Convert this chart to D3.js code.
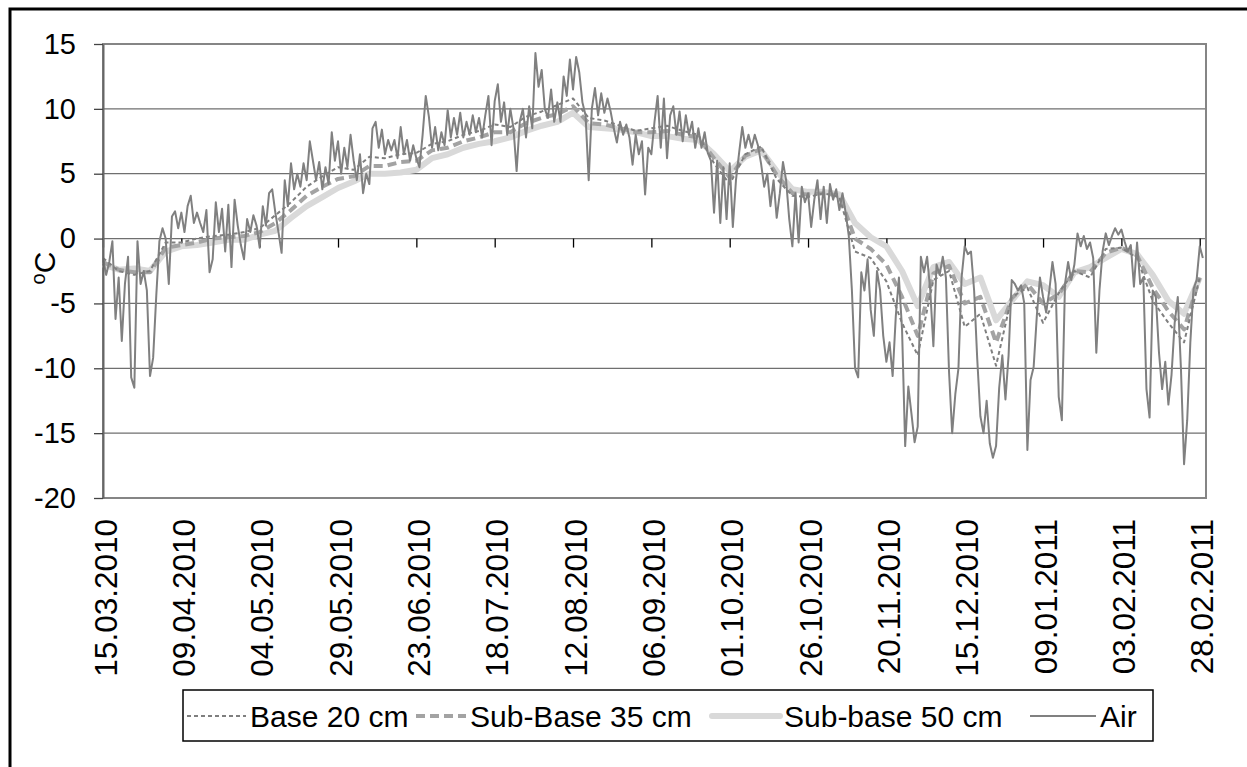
<!DOCTYPE html>
<html>
<head>
<meta charset="utf-8">
<script src="https://cdn.jsdelivr.net/npm/d3@7"></script>
<style>
  body { margin: 0; background: #fff; }
  svg { display: block; }
</style>
</head>
<body>
<div id="chart"></div>
<script>
// first reading date, soil sensors logged every soilStep days
const startDate = "15.03.2010";
const axisEnd = "02.03.2011";
const soilStep = 5;

// daily air temperature, 15.03.2010 .. 01.03.2011
const airTemp = [
  -1.5, -2.8, -1.8, -0.2, -6.2, -3.0, -7.9, -3.5, -1.4, -10.7,
  -11.5, -0.2, -3.5, -2.5, -4.0, -10.6, -9.2, -4.4, -0.2, 0.8,
  0.0, -3.5, 1.7, 2.1, 0.8, 2.0, 0.5, 2.5, 3.3, 1.2,
  2.0, 1.2, 0.5, 2.2, -2.6, -1.6, 2.8, 0.5, 2.3, -1.0,
  2.6, -2.2, 3.0, 1.0, -0.5, -1.6, 1.5, 0.5, 1.8, 1.0,
  -0.7, 2.5, 1.0, 3.5, 3.8, 2.0, 0.5, -1.1, 4.5, 2.5,
  5.8, 3.8, 5.0, 4.0, 5.8, 4.5, 7.5, 6.0, 4.5, 5.9,
  3.8, 5.5, 4.2, 8.2, 6.0, 7.5, 5.0, 7.0, 5.5, 8.0,
  6.0, 4.5, 6.5, 3.5, 5.0, 4.2, 8.5, 9.0, 7.0, 8.4,
  6.5, 7.6, 6.8, 7.6, 6.2, 8.6, 6.5, 7.6, 6.0, 7.2,
  6.2, 5.5, 8.0, 11.0, 9.4, 7.0, 8.6, 6.8, 8.2, 7.2,
  9.9, 7.8, 9.3, 8.0, 9.7, 7.8, 9.0, 8.0, 9.5, 8.2,
  9.3, 7.8, 9.5, 11.0, 7.2, 10.6, 11.9, 9.0, 10.5, 8.0,
  10.0, 8.5, 5.2, 9.0, 10.0, 7.8, 10.2, 8.5, 14.3, 11.7,
  13.0, 10.0, 9.3, 11.5, 9.0, 10.5, 9.0, 12.5, 11.0, 13.8,
  11.5, 14.0, 12.8, 10.5, 9.5, 4.5, 10.0, 11.6, 9.5, 11.2,
  9.7, 10.8, 9.8, 8.5, 7.4, 9.0, 8.0, 8.8, 7.8, 5.7,
  8.0, 6.5, 7.5, 3.4, 7.0, 6.5, 9.0, 11.0, 7.0, 10.8,
  6.2, 9.5, 10.2, 8.0, 9.8, 7.5, 9.5, 8.0, 9.0, 7.0,
  8.5, 7.0, 8.2, 6.6, 6.0, 2.0, 6.0, 1.2, 5.5, 1.5,
  5.8, 0.9, 4.5, 6.6, 8.6, 7.0, 8.0, 7.0, 8.0, 7.2,
  5.8, 4.0, 5.0, 2.5, 4.5, 1.6, 3.5, 5.9, 4.5, 1.5,
  -0.6, 3.5, -0.3, 4.0, 2.8, 3.5, 0.9, 3.0, 4.5, 1.5,
  4.0, 1.2, 4.2, 3.0, 3.8, 2.2, 3.5, 2.0, 0.2, -4.0,
  -10.0, -10.7, -2.6, -4.0, -1.6, -5.5, -7.5, -2.5, -4.0, -7.5,
  -9.5, -8.0, -10.6, -6.0, -3.0, -7.0, -16.0, -11.4, -13.5, -15.7,
  -14.5, -1.4, -2.6, -1.4, -4.0, -8.3, -2.0, -2.8, -1.4, -3.0,
  -10.3, -15.0, -12.0, -10.0, -3.0, -0.6, -1.2, -1.0, -4.0, -9.3,
  -13.7, -15.0, -12.5, -15.8, -16.9, -16.0, -11.5, -9.0, -12.4, -9.0,
  -3.2, -3.5, -4.0, -3.6, -5.0, -16.3, -10.9, -9.9, -6.0, -3.0,
  -4.5, -5.7, -4.0, -1.8, -3.5, -12.2, -14.0, -3.5, -1.8, -3.2,
  -2.0, 0.4, -0.6, 0.2, -0.8, -0.3, -1.5, -8.8, -4.0, -1.0,
  0.4, -0.5, 0.2, 0.8, 0.3, 0.7, -0.2, -1.0, -0.5, -3.7,
  -0.3, -3.5, -3.0, -11.6, -13.8, -4.0, -4.5, -8.8, -11.6, -9.5,
  -12.8, -10.5, -6.5, -4.5, -10.0, -17.4, -14.0, -8.0, -3.9, -3.2,
  -0.6, -1.5
];

// soil temperatures, one value every 5 days
const base20 = [
  -1.5, -2.5, -2.8, -2.5, -0.3, -0.3, 0.0, 0.2, 0.3, 0.5,
  0.8, 1.8, 2.8, 4.0, 4.8, 5.5, 5.3, 6.3, 6.2, 6.5,
  6.6, 7.3, 7.5, 8.0, 8.3, 8.8, 8.6, 9.4, 9.8, 10.3,
  10.8, 9.3, 9.1, 8.7, 8.3, 8.5, 8.7, 8.3, 8.0, 5.8,
  4.2, 6.5, 7.1, 4.6, 3.3, 3.2, 3.5, 3.2, -1.0, -1.5,
  -3.3, -6.5, -9.0, -3.2, -2.5, -6.8, -5.8, -9.8, -4.5, -3.8,
  -6.5, -4.2, -2.5, -3.0, -0.8, -0.7, -1.5, -4.8, -6.5, -8.0,
  -3.0
];
const subBase35 = [
  -1.8, -2.4, -2.6, -2.6, -0.7, -0.5, -0.3, 0.0, 0.1, 0.2,
  0.5, 1.2, 2.2, 3.3, 4.0, 4.6, 4.8, 5.6, 5.6, 5.9,
  6.0, 6.8, 7.0, 7.5, 7.8, 8.2, 8.2, 8.9, 9.3, 9.6,
  10.2, 8.9, 8.8, 8.5, 8.2, 8.2, 8.3, 8.0, 7.8, 6.2,
  4.7, 6.4, 6.9, 4.9, 3.5, 3.4, 3.5, 3.3, 0.0, -0.8,
  -2.0, -4.5, -7.5, -2.7, -2.1, -5.0, -4.5, -8.0, -4.6, -3.5,
  -5.0, -4.3, -2.5, -2.6, -1.1, -0.7, -1.3, -3.8, -5.6, -7.0,
  -3.0
];
const subBase50 = [
  -2.0, -2.4, -2.3, -2.5, -1.0, -0.6, -0.5, -0.3, -0.1, -0.1,
  0.3, 0.6, 1.6, 2.5, 3.2, 3.9, 4.4, 5.0, 5.0, 5.1,
  5.3, 6.2, 6.5, 7.0, 7.3, 7.5, 7.8, 8.3, 8.7, 9.0,
  9.7, 8.6, 8.5, 8.4, 8.2, 7.9, 7.9, 7.7, 7.6, 6.5,
  5.2, 6.3, 6.8, 5.2, 3.8, 3.6, 3.6, 3.4, 1.2, 0.1,
  -0.6, -2.5, -5.2, -2.2, -1.8, -3.5, -3.0, -6.3, -4.8, -3.3,
  -3.6, -4.5, -2.6, -2.2, -1.5, -0.8, -1.2, -2.8, -4.8, -5.8,
  -3.0
];

const tickLabels = [
  "15.03.2010", "09.04.2010", "04.05.2010", "29.05.2010", "23.06.2010",
  "18.07.2010", "12.08.2010", "06.09.2010", "01.10.2010", "26.10.2010",
  "20.11.2010", "15.12.2010", "09.01.2011", "03.02.2011", "28.02.2011"
];
const yTicks = [15, 10, 5, 0, -5, -10, -15, -20];
const seriesNames = ["Base 20 cm", "Sub-Base 35 cm", "Sub-base 50 cm", "Air"];

// ---- layout ----
const W = 1247, H = 767;
const plot = { left: 103, top: 44, right: 1206, bottom: 498 };
const font = "'Liberation Sans', Arial, sans-serif";

const parseDate = d3.utcParse("%d.%m.%Y");
const t0 = parseDate(startDate);

const svg = d3.select("#chart").append("svg")
    .attr("width", W)
    .attr("height", H)
    .attr("font-family", font);

// outer frame, runs off the right and bottom edge like the source
svg.append("rect")
    .attr("x", 10).attr("y", 9)
    .attr("width", W + 20).attr("height", H + 20)
    .attr("fill", "#fff")
    .attr("stroke", "#000")
    .attr("stroke-width", 3);

const x = d3.scaleUtc()
    .domain([t0, parseDate(axisEnd)])
    .range([plot.left, plot.right]);

const y = d3.scaleLinear()
    .domain([-20, 15])
    .range([plot.bottom, plot.top]);

// horizontal gridlines
svg.append("g")
    .selectAll("line")
    .data(yTicks.filter(v => v > -20 && v < 15))
    .join("line")
    .attr("x1", plot.left)
    .attr("x2", plot.right)
    .attr("y1", d => y(d))
    .attr("y2", d => y(d))
    .attr("stroke", "#6f6f6f")
    .attr("stroke-width", 1.3);

// plot border
svg.append("rect")
    .attr("x", plot.left).attr("y", plot.top)
    .attr("width", plot.right - plot.left)
    .attr("height", plot.bottom - plot.top)
    .attr("fill", "none")
    .attr("stroke", "#858585")
    .attr("stroke-width", 2);

// ticks on the zero line
const xTicks = svg.append("g")
    .attr("transform", `translate(0,${y(0)})`)
    .call(d3.axisBottom(x)
        .tickValues(tickLabels.map(parseDate))
        .tickSize(9)
        .tickSizeOuter(0)
        .tickFormat(""));
xTicks.select(".domain").remove();
xTicks.selectAll(".tick line").attr("stroke", "#000").attr("stroke-width", 1.3);

// series data
const toDaily = arr => arr.map((v, i) => ({ date: d3.utcDay.offset(t0, i), v }));
const toSoil = arr => arr.map((v, i) => ({ date: d3.utcDay.offset(t0, i * soilStep), v }));

const styles = [
    { stroke: "#7f7f7f", width: 2, dash: "4,3" },
    { stroke: "#a3a3a3", width: 4, dash: "9,5" },
    { stroke: "#d9d9d9", width: 6, dash: null },
    { stroke: "#808080", width: 2, dash: null }
];

const series = [
    { name: seriesNames[2], values: toSoil(subBase50), style: styles[2] },
    { name: seriesNames[1], values: toSoil(subBase35), style: styles[1] },
    { name: seriesNames[0], values: toSoil(base20), style: styles[0] },
    { name: seriesNames[3], values: toDaily(airTemp), style: styles[3] }
];

const line = d3.line()
    .x(d => x(d.date))
    .y(d => y(d.v));

svg.append("g")
    .selectAll("path")
    .data(series)
    .join("path")
    .attr("d", d => line(d.values))
    .attr("fill", "none")
    .attr("stroke", d => d.style.stroke)
    .attr("stroke-width", d => d.style.width)
    .attr("stroke-dasharray", d => d.style.dash)
    .attr("stroke-linejoin", "round");

// y axis
const yAxis = svg.append("g")
    .attr("transform", `translate(${plot.left},0)`)
    .call(d3.axisLeft(y)
        .tickValues(yTicks)
        .tickSize(9)
        .tickSizeOuter(0)
        .tickPadding(18)
        .tickFormat(d => String(d)));
yAxis.attr("font-family", font).attr("font-size", 29);
yAxis.select(".domain").attr("stroke", "#666").attr("stroke-width", 2);
yAxis.selectAll(".tick line").attr("stroke", "#444").attr("stroke-width", 1.3);
yAxis.selectAll("text").attr("fill", "#000");

// date labels under the plot
const xLabels = svg.append("g")
    .attr("transform", `translate(0,${plot.bottom})`)
    .call(d3.axisBottom(x)
        .tickValues(tickLabels.map(parseDate))
        .tickSize(0)
        .tickFormat((d, i) => tickLabels[i]));
xLabels.attr("font-family", font).attr("font-size", 31.5);
xLabels.select(".domain").remove();
xLabels.selectAll("text")
    .attr("fill", "#000")
    .attr("transform", "rotate(-90)")
    .attr("x", -21)
    .attr("y", 0)
    .attr("dy", "0.42em")
    .attr("text-anchor", "end");

// y axis title
svg.append("text")
    .attr("transform", "translate(55,268) rotate(-90)")
    .attr("text-anchor", "middle")
    .attr("font-size", 30)
    .html('<tspan font-size="20" dy="-10">o</tspan><tspan dy="10">C</tspan>');

// legend
const legend = svg.append("g");
legend.append("rect")
    .attr("x", 183).attr("y", 690)
    .attr("width", 970).attr("height", 51)
    .attr("fill", "#fff")
    .attr("stroke", "#000")
    .attr("stroke-width", 1.5);

const legendPos = [
    { x1: 187, x2: 246 },
    { x1: 416, x2: 466 },
    { x1: 712, x2: 780 },
    { x1: 1030, x2: 1096 }
];

const legendItems = legend.selectAll("g.item")
    .data(seriesNames)
    .join("g")
    .attr("class", "item");

legendItems.append("line")
    .attr("x1", (d, i) => legendPos[i].x1)
    .attr("x2", (d, i) => legendPos[i].x2)
    .attr("y1", 716)
    .attr("y2", 716)
    .attr("stroke", (d, i) => styles[i].stroke)
    .attr("stroke-width", (d, i) => styles[i].width)
    .attr("stroke-dasharray", (d, i) => styles[i].dash)
    .attr("stroke-linecap", (d, i) => i === 2 ? "round" : "butt");

legendItems.append("text")
    .attr("x", (d, i) => legendPos[i].x2 + 4)
    .attr("y", 727)
    .attr("font-size", 30)
    .attr("fill", "#000")
    .text(d => d);
</script>
</body>
</html>
